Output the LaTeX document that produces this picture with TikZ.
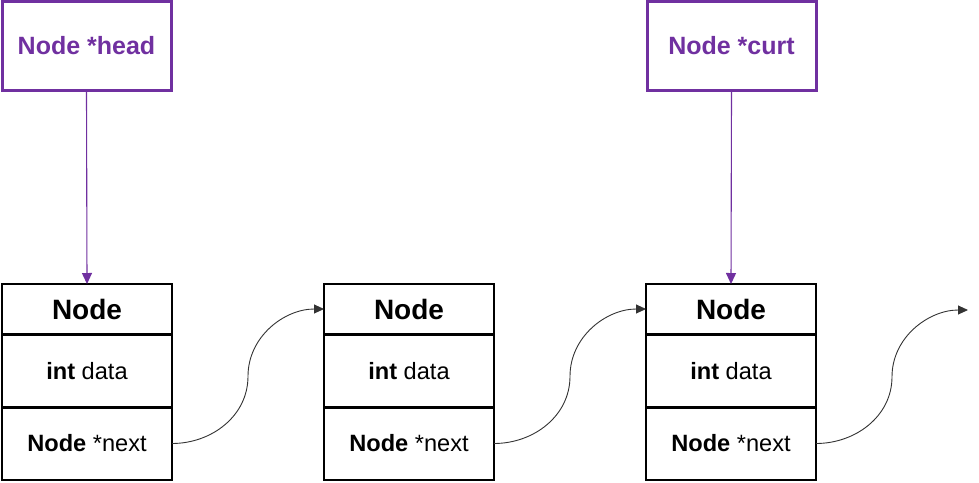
\documentclass[tikz,border=0pt]{standalone}
\usepackage{fontspec}
\setmainfont{Liberation Sans}
\usetikzlibrary{arrows.meta,calc}
\definecolor{ptr}{HTML}{7030A0}
\begin{document}
\begin{tikzpicture}[x=1pt,y=-1pt,
  cell/.style={draw=black,line width=1.2pt,minimum width=170pt,inner sep=0pt,outer sep=0pt,text=black},
  hdr/.style={cell,minimum height=50pt,font=\fontsize{28}{30}\selectfont\bfseries},
  fld/.style={cell,minimum height=73pt,font=\fontsize{23.6}{26}\selectfont},
  ptrbox/.style={draw=ptr,line width=3pt,minimum width=169pt,minimum height=89pt,inner sep=0pt,text=ptr,font=\fontsize{25}{27}\selectfont\bfseries},
  ptrline/.style={draw=ptr,line width=1.1pt,-{Triangle[length=11pt,width=10pt]}},
  link/.style={draw=black!80,line width=0.9pt,-{Triangle[length=10pt,width=9pt]}}]
\useasboundingbox (0,0) rectangle (979,482);
% pointer boxes
\node[ptrbox] (head) at (86.5,46) {Node *head};
\node[ptrbox] (curt) at (731.5,46) {Node *curt};
% list nodes
\foreach \i/\cx in {1/87,2/409,3/731}{
  \node[hdr] (h\i) at (\cx,309) {Node};
  \node[fld] (d\i) at (\cx,371.5) {\textbf{int} data};
  \node[fld] (n\i) at (\cx,443.5) {\textbf{Node} *next};
}
\coordinate (free) at (968,310);
% pointers
\draw[ptrline] (head.south) -- (h1.north);
\draw[ptrline] (curt.south) -- (h3.north);
% links
\draw[link] (n1.east) to[out=0,in=-90] ($(n1.east)!0.5!(h2.west)$) to[out=90,in=180] (h2.west);
\draw[link] (n2.east) to[out=0,in=-90] ($(n2.east)!0.5!(h3.west)$) to[out=90,in=180] (h3.west);
\draw[link] (n3.east) to[out=0,in=-90] ($(n3.east)!0.5!(free)$) to[out=90,in=180] (free);
\end{tikzpicture}
\end{document}
